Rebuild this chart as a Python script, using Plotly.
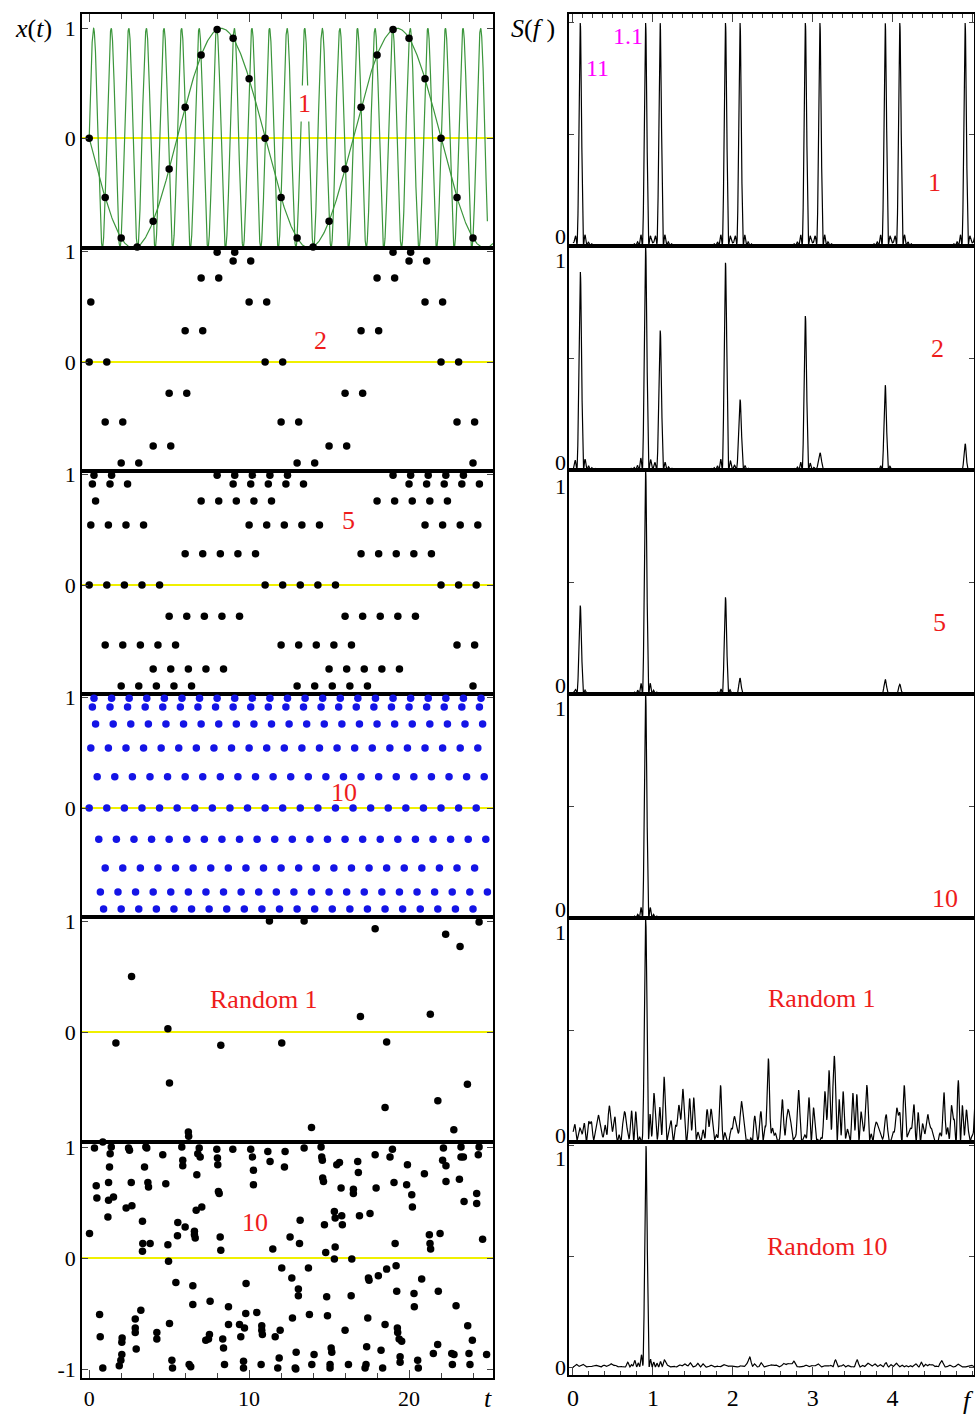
import numpy as np
import plotly.graph_objects as go

# ---------------- data ----------------
FAST_PERIOD = 1.1      # period of the true signal (magenta label "1.1")
ALIAS_PERIOD = 11.0    # period of the aliased curve (magenta label "11")
N_STEPS = 25           # unit time steps 0..24

# sub-sample offsets within each unit step for the four regular panels
OFFSETS_1 = [0.0]
OFFSETS_2 = [0.0, 0.1]
OFFSETS_5 = [0.0, 0.1, 0.2, 0.3, 0.4]
OFFSETS_10 = [0.0, 0.1, 0.2, 0.3, 0.4, 0.5, 0.6, 0.7, 0.8, 0.9]

# random sampling, 1 per unit step
RAND1_T = [0.85, 1.67, 2.65, 4.92, 5.02, 6.2, 6.22, 8.23, 9.58, 11.27, 12.04, 13.44, 13.9,
           16.1, 16.96, 17.88, 18.5, 18.6, 21.33, 21.8, 22.29, 22.8, 23.19, 23.65, 24.38]
RAND1_X = [-0.99, -0.10, 0.50, 0.03, -0.46, -0.90, -0.94, -0.12, -1.0, 1.0, -0.10, 1.0, -0.86,
           -1.0, 0.14, 0.93, -0.68, -0.09, 0.16, -0.62, 0.88, -0.88, 0.77, -0.47, 0.99]

# random sampling, 10 per unit step
RAND10_T = [0.02, 0.33, 0.44, 0.48, 0.65, 0.69, 0.85, 1.17, 1.21, 1.21, 1.27, 1.31, 1.38, 1.52,
            1.88, 1.98, 2.04, 2.04, 2.06, 2.31, 2.46, 2.52, 2.63, 2.67, 2.88, 2.88, 2.88, 2.94,
            3.23, 3.33, 3.35, 3.33, 3.46, 3.54, 3.6, 3.67, 3.71, 3.81, 4.23, 4.23, 4.6, 4.79,
            4.92, 4.96, 5.02, 5.17, 5.21, 5.42, 5.52, 5.54, 5.79, 5.85, 5.85, 6.0, 6.25, 6.35,
            6.48, 6.48, 6.58, 6.58, 6.63, 6.69, 6.73, 6.79, 6.88, 6.94, 7.04, 7.29, 7.46, 7.52,
            7.56, 7.98, 8.02, 8.04, 8.08, 8.13, 8.19, 8.23, 8.35, 8.4, 8.46, 8.71, 8.71, 8.98,
            9.4, 9.48, 9.65, 9.65, 9.71, 9.79, 9.81, 10.1, 10.21, 10.27, 10.27, 10.48, 10.75,
            10.79, 10.79, 10.83, 11.17, 11.31, 11.48, 11.63, 11.79, 11.88, 11.94, 12.04, 12.25,
            12.21, 12.56, 12.67, 12.71, 12.88, 12.92, 12.94, 13.08, 13.08, 13.15, 13.19, 13.44,
            13.71, 13.77, 13.92, 14.06, 14.5, 14.54, 14.58, 14.6, 14.65, 14.71, 14.79, 14.85,
            14.9, 15.06, 15.06, 15.13, 15.17, 15.33, 15.38, 15.38, 15.33, 15.48, 15.65, 15.75,
            15.79, 15.83, 16.0, 16.21, 16.38, 16.42, 16.52, 16.52, 16.79, 16.83, 16.9, 17.25,
            17.31, 17.35, 17.42, 17.46, 17.5, 17.56, 17.88, 17.94, 18.08, 18.25, 18.35, 18.5,
            18.6, 18.81, 18.96, 19.06, 19.13, 19.19, 19.23, 19.27, 19.29, 19.38, 19.44, 19.44,
            19.54, 19.9, 19.85, 20.17, 20.21, 20.31, 20.33, 20.54, 20.58, 20.79, 20.96, 21.27,
            21.31, 21.35, 21.52, 21.79, 21.83, 21.94, 22.15, 22.10, 22.31, 22.31, 22.67, 22.71,
            22.81, 22.94, 23.15, 23.25, 23.25, 23.4, 23.44, 23.67, 23.75, 23.81, 23.96, 24.23,
            24.23, 24.33, 24.38, 24.6, 24.85]
RAND10_X = [0.22, 0.99, 0.65, 0.54, -0.51, -0.71, -0.99, 0.37, 0.52, 0.68, 0.82, 0.94, 1.0, 0.55,
            -0.97, -0.92, -0.87, -0.76, -0.72, 0.45, 0.99, 0.97, 0.68, 0.47, -0.55, -0.63, -0.67, -0.82,
            -0.47, 0.33, 0.13, 0.06, 0.82, 1.0, 0.99, 0.68, 0.64, 0.13, -0.67, -0.73, 0.93, 0.67,
            0.12, -0.03, -0.59, -0.92, -0.99, -0.22, 0.20, 0.32, 1.0, 0.88, 0.83, 0.28, -0.96, -0.98,
            -0.25, -0.42, 0.24, 0.21, 0.18, 0.43, 0.75, 0.94, 0.99, 0.91, 0.46, -0.74, -0.73, -0.69,
            -0.39, 0.98, 0.90, 0.84, 0.60, 0.58, 0.19, 0.07, -0.73, -0.81, -0.96, -0.44, -0.60, 0.98,
            -0.60, -0.71, -0.93, -0.99, -0.63, -0.50, -0.23, 0.98, 0.91, 0.79, 0.66, -0.49, -0.96,
            -0.61, -0.65, -0.69, 0.96, 0.87, 0.08, -0.71, -0.99, -0.90, -0.65, -0.09, 0.96,
            0.82, 0.19, -0.18, -0.54, -0.99, -1.0, -0.85, -0.28, -0.34, 0.13, 0.34, 0.99,
            -0.09, -0.51, -0.96, -0.87, 1.0, 0.91, 0.88, 0.72, 0.69, 0.30, 0.05, -0.35,
            -0.52, -0.96, -0.99, -0.81, -0.85, 0.42, 0.36, 0.10, -0.01, 0.84, 0.86, 0.63,
            0.38, 0.30, -0.65, -0.96, -0.34, -0.01, 0.62, 0.58, 0.87, 0.77, 0.38, -0.99,
            -0.96, -0.80, -0.54, -0.18, -0.20, 0.40, 0.93, 0.63, -0.16, -0.83, -0.99, -0.60,
            -0.10, 0.91, 0.98, 0.68, 0.13, -0.07, -0.30, -0.63, -0.67, -0.73, -0.89, -0.94,
            -0.75, 0.84, 0.66, 0.57, 0.46, -0.32, -0.44, -0.92, -0.99, -0.19, 0.76, 0.21,
            0.13, 0.08, -0.86, -0.78, -0.30, 0.22, 0.99, 0.88, 0.83, 0.69, -0.86, -0.96,
            -0.87, -0.43, 0.71, 1.0, 0.91, 0.91, 0.51, -0.61, -0.86, -0.96, -0.74, 0.58,
            0.49, 0.93, 1.0, 0.17, -0.87]

LEFT_LABELS = ["1", "2", "5", "10", "Random 1", "10"]
RIGHT_LABELS = ["1", "2", "5", "10", "Random 1", "Random 10"]

# ---------------- build samples ----------------
def regular(offsets):
    t = np.array(sorted(n + o for n in range(N_STEPS) for o in offsets))
    return t, np.sin(2 * np.pi * t / FAST_PERIOD)

panels = [regular(OFFSETS_1), regular(OFFSETS_2), regular(OFFSETS_5), regular(OFFSETS_10)]
o1 = np.argsort(RAND1_T)
panels.append((np.array(RAND1_T)[o1], np.array(RAND1_X)[o1]))
o10 = np.argsort(RAND10_T)
panels.append((np.array(RAND10_T)[o10], np.array(RAND10_X)[o10]))

freq = np.linspace(0, 5.03, 3000)

def spectrum(t, x):
    F = np.exp(-2j * np.pi * np.outer(freq, t)) @ x
    S = np.abs(F) ** 2
    return S / S.max()

# ---------------- layout geometry ----------------
W, H = 975, 1417
def fx(p): return p / W
def fy(p): return 1 - p / H

FONT = "Liberation Serif"
L_BOUNDS = [14, 248, 471, 694, 917, 1142, 1378]
R_BOUNDS = [14, 246, 470, 694, 918, 1142, 1375]
L_RANGES = [[-1.0, 1.13], [-0.982, 1.027], [-0.982, 1.027], [-0.982, 1.027],
            [-0.991, 1.036], [-1.081, 1.045]]
R_RANGES = [[0, 1.04], [0, 1.0], [0, 1.0], [0, 1.0], [0, 1.0], [-0.036, 1.018]]
LX = [82, 493]
RX = [569, 974]
T_RANGE = [-0.45, 25.25]
F_RANGE = [-0.05, 5.02]

fig = go.Figure()
layout = dict(width=W, height=H, margin=dict(l=0, r=0, t=0, b=0, autoexpand=False),
              paper_bgcolor="white", plot_bgcolor="white", showlegend=False,
              font=dict(family=FONT, size=22, color="black"))

def axname(kind, i):
    return f"{kind}axis" if i == 1 else f"{kind}axis{i}"

def ref(kind, i):
    return kind if i == 1 else f"{kind}{i}"

for r in range(6):
    li, ri = 2 * r + 1, 2 * r + 2
    t, x = panels[r]
    # ---- left panel
    if r == 0:
        tf = np.linspace(0, 24.9, 6000)
        fig.add_trace(go.Scatter(x=tf, y=np.sin(2 * np.pi * tf / FAST_PERIOD), mode="lines",
                                 line=dict(color="#3c963c", width=1.2),
                                 xaxis=ref("x", li), yaxis=ref("y", li)))
        ts = np.linspace(0, 25.25, 800)
        fig.add_trace(go.Scatter(x=ts, y=-np.sin(2 * np.pi * ts / ALIAS_PERIOD), mode="lines",
                                 line=dict(color="#3c963c", width=1.2), cliponaxis=False,
                                 xaxis=ref("x", li), yaxis=ref("y", li)))
    col = "#1414e6" if r == 3 else "black"
    fig.add_trace(go.Scatter(x=t, y=x, mode="markers", cliponaxis=False,
                             marker=dict(color=col, size=7.5, line=dict(width=0)),
                             xaxis=ref("x", li), yaxis=ref("y", li)))
    # ---- right panel
    fig.add_trace(go.Scatter(x=freq, y=spectrum(t, x), mode="lines",
                             line=dict(color="black", width=1.2),
                             xaxis=ref("x", ri), yaxis=ref("y", ri)))

    common_x = dict(showline=True, linecolor="black", linewidth=1.6, mirror=True,
                    showgrid=False, zeroline=False, automargin=False)
    # left x axis
    lx = dict(common_x, domain=[fx(LX[0]), fx(LX[1])], range=T_RANGE, anchor=ref("y", li))
    if r == 0:
        lx.update(side="top", ticks="inside", tickmode="linear", tick0=0, dtick=10, ticklen=8,
                  tickwidth=1.4, showticklabels=False,
                  minor=dict(ticks="inside", tick0=0, dtick=2, ticklen=5, tickwidth=1.2))
    elif r == 5:
        lx.update(side="bottom", ticks="inside", tickmode="linear", tick0=0, dtick=10, ticklen=8,
                  tickwidth=1.4, showticklabels=True, tickfont=dict(size=22),
                  minor=dict(ticks="inside", tick0=0, dtick=2, ticklen=5, tickwidth=1.2))
    else:
        lx.update(ticks="", showticklabels=False)
    layout[axname("x", li)] = lx
    # left y axis
    ttext = ["-1", "0", "1"] if r == 5 else ["", "0", "1"]
    layout[axname("y", li)] = dict(domain=[fy(L_BOUNDS[r + 1]), fy(L_BOUNDS[r])], range=L_RANGES[r],
                                   anchor=ref("x", li), showline=True, linecolor="black",
                                   linewidth=1.6, mirror="ticks", ticks="inside", ticklen=6,
                                   tickwidth=1.4, tickmode="array", tickvals=[-1, 0, 1],
                                   ticktext=ttext, tickfont=dict(size=22), showgrid=False,
                                   automargin=False,
                                   zeroline=True, zerolinecolor="#f0f000", zerolinewidth=1.6)
    # right x axis
    rx = dict(common_x, domain=[fx(RX[0]), fx(RX[1])], range=F_RANGE, anchor=ref("y", ri))
    if r == 0:
        rx.update(side="top", ticks="inside", tickmode="linear", tick0=0, dtick=1, ticklen=8,
                  tickwidth=1.4, showticklabels=False,
                  minor=dict(ticks="inside", tick0=0, dtick=0.125, ticklen=4, tickwidth=1.2))
    elif r == 5:
        rx.update(side="bottom", ticks="inside", tickmode="array", tickvals=[0, 1, 2, 3, 4],
                  ticklen=8, tickwidth=1.4, showticklabels=True, tickfont=dict(size=24),
                  minor=dict(ticks="inside", tick0=0, dtick=0.2, ticklen=4, tickwidth=1.2))
    else:
        rx.update(ticks="", showticklabels=False)
    layout[axname("x", ri)] = rx
    layout[axname("y", ri)] = dict(domain=[fy(R_BOUNDS[r + 1]), fy(R_BOUNDS[r])], range=R_RANGES[r],
                                   anchor=ref("x", ri), showline=True, linecolor="black",
                                   linewidth=1.6, mirror="ticks", ticks="inside", ticklen=5,
                                   tickwidth=1.4, tickmode="array", tickvals=[0, 0.5, 1],
                                   showticklabels=False, showgrid=False, zeroline=False,
                                   automargin=False)

# ---------------- annotations ----------------
ann = []
def txt(s, px, py, size=26, color="black", bg=None):
    a = dict(text=s, x=fx(px), y=fy(py), xref="paper", yref="paper",
             xanchor="center", yanchor="middle", showarrow=False,
             font=dict(family=FONT, size=size, color=color))
    if bg:
        a.update(bgcolor=bg, borderpad=3)
    ann.append(a)

RED = "#ee1c1c"
for i, (s, p) in enumerate(zip(LEFT_LABELS, [(304, 103), (320, 341), (348, 520), (344, 792),
                                             (264, 999), (255, 1222)])):
    txt(s, p[0], p[1], 26, RED, "white" if i == 0 else None)
for s, p in zip(RIGHT_LABELS, [(934, 182), (937, 348), (939, 622), (945, 898), (822, 998), (827, 1246)]):
    txt(s, p[0], p[1], 26, RED)
txt("1.1", 628, 36, 24, "#ff00ff")
txt("11", 597, 68, 24, "#ff00ff")
txt("<i>x</i>(<i>t</i>)", 33, 28, 26)
txt("<i>S</i>(<i>f</i> )", 533, 28, 26)
txt("<i>t</i>", 488, 1398, 26)
txt("<i>f</i>", 968, 1400, 26)
for yp in [237, 462, 685, 909, 1135, 1367]:
    txt("0", 560, yp, 22)
for yp in [260, 486, 708, 932, 1158]:
    txt("1", 560, yp, 22)

layout["annotations"] = ann
fig.update_layout(**layout)
fig.write_html("out.html")
